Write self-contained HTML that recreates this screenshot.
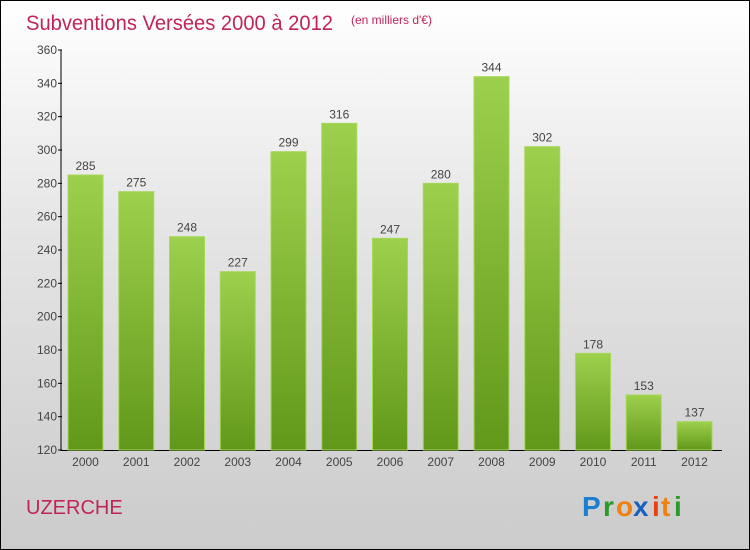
<!DOCTYPE html>
<html><head><meta charset="utf-8"><style>
body{margin:0;}
#c{width:750px;height:550px;position:relative;box-sizing:border-box;border:1px solid #000;background:linear-gradient(#ffffff 0%,#e6e6e6 40%,#cbcbcb 100%);font-family:"Liberation Sans",sans-serif;overflow:hidden}
svg text{font-family:"Liberation Sans",sans-serif}
</style></head><body>
<div id="c">
<svg id="s" width="750" height="550" style="position:absolute;left:-1px;top:-1px">
<defs><linearGradient id="g" x1="0" y1="0" x2="0" y2="1"><stop offset="0" stop-color="#9dd04c"/><stop offset="1" stop-color="#62981a"/></linearGradient></defs>
<text x="26" y="30" font-size="21" fill="#c0245a" textLength="307" lengthAdjust="spacingAndGlyphs">Subventions Versées 2000 à 2012</text>
<text x="351" y="24" font-size="12" fill="#c0245a">(en milliers d'€)</text>
<text x="26" y="514" font-size="20" fill="#c0245a">UZERCHE</text>
<g font-size="28" font-weight="bold">
<text x="582" y="516" fill="#1a7fd0">P</text><text x="603" y="516" fill="#2a9a2a">r</text><text x="616" y="516" fill="#f08010">o</text><text x="633" y="516" fill="#1a60c0">x</text><text x="652" y="516" fill="#e84010">i</text><text x="661" y="516" fill="#f08010">t</text><text x="674" y="516" fill="#2a9a2a">i</text>
</g>
<g id="plot"></g>
</svg>
</div>
<script>
const categories=["2000","2001","2002","2003","2004","2005","2006","2007","2008","2009","2010","2011","2012"];
const values=[285,275,248,227,299,316,247,280,344,302,178,153,137];
const yTicks=[120,140,160,180,200,220,240,260,280,300,320,340,360];
const NS="http://www.w3.org/2000/svg";
const p=document.getElementById('plot');
const y=v=>450-(v-120)*400/240;
const x=i=>85.5+i*50.75;
function mk(t,a){const e=document.createElementNS(NS,t);for(const k in a)e.setAttribute(k,a[k]);p.appendChild(e);return e;}
let e=mk('line',{x1:61,y1:50,x2:61,y2:451,stroke:'#000'});


e=mk('line',{x1:61,y1:450.5,x2:722,y2:450.5,stroke:'#000'});


yTicks.forEach(t=>{
 const l=mk('line',{x1:58,x2:62,y1:y(t),y2:y(t),stroke:'#000'});
 
 
 const tx=mk('text',{x:57,y:y(t)+4,'text-anchor':'end','font-size':12,fill:'#444'});
 tx.textContent=t;
 
 
});
categories.forEach((c,i)=>{
 const v=values[i];
 const r=mk('rect',{x:x(i)-17.5,y:y(v),width:35,height:450-y(v),fill:'url(#g)',stroke:'#a6d85a','stroke-width':1});
 
 
 const lv=mk('text',{x:x(i),y:y(v)-5,'text-anchor':'middle','font-size':12,fill:'#444'});
 lv.textContent=v;
 
 
 const lc=mk('text',{x:x(i),y:466,'text-anchor':'middle','font-size':12,fill:'#444'});
 lc.textContent=c;
 
 
});
</script>
</body></html>
